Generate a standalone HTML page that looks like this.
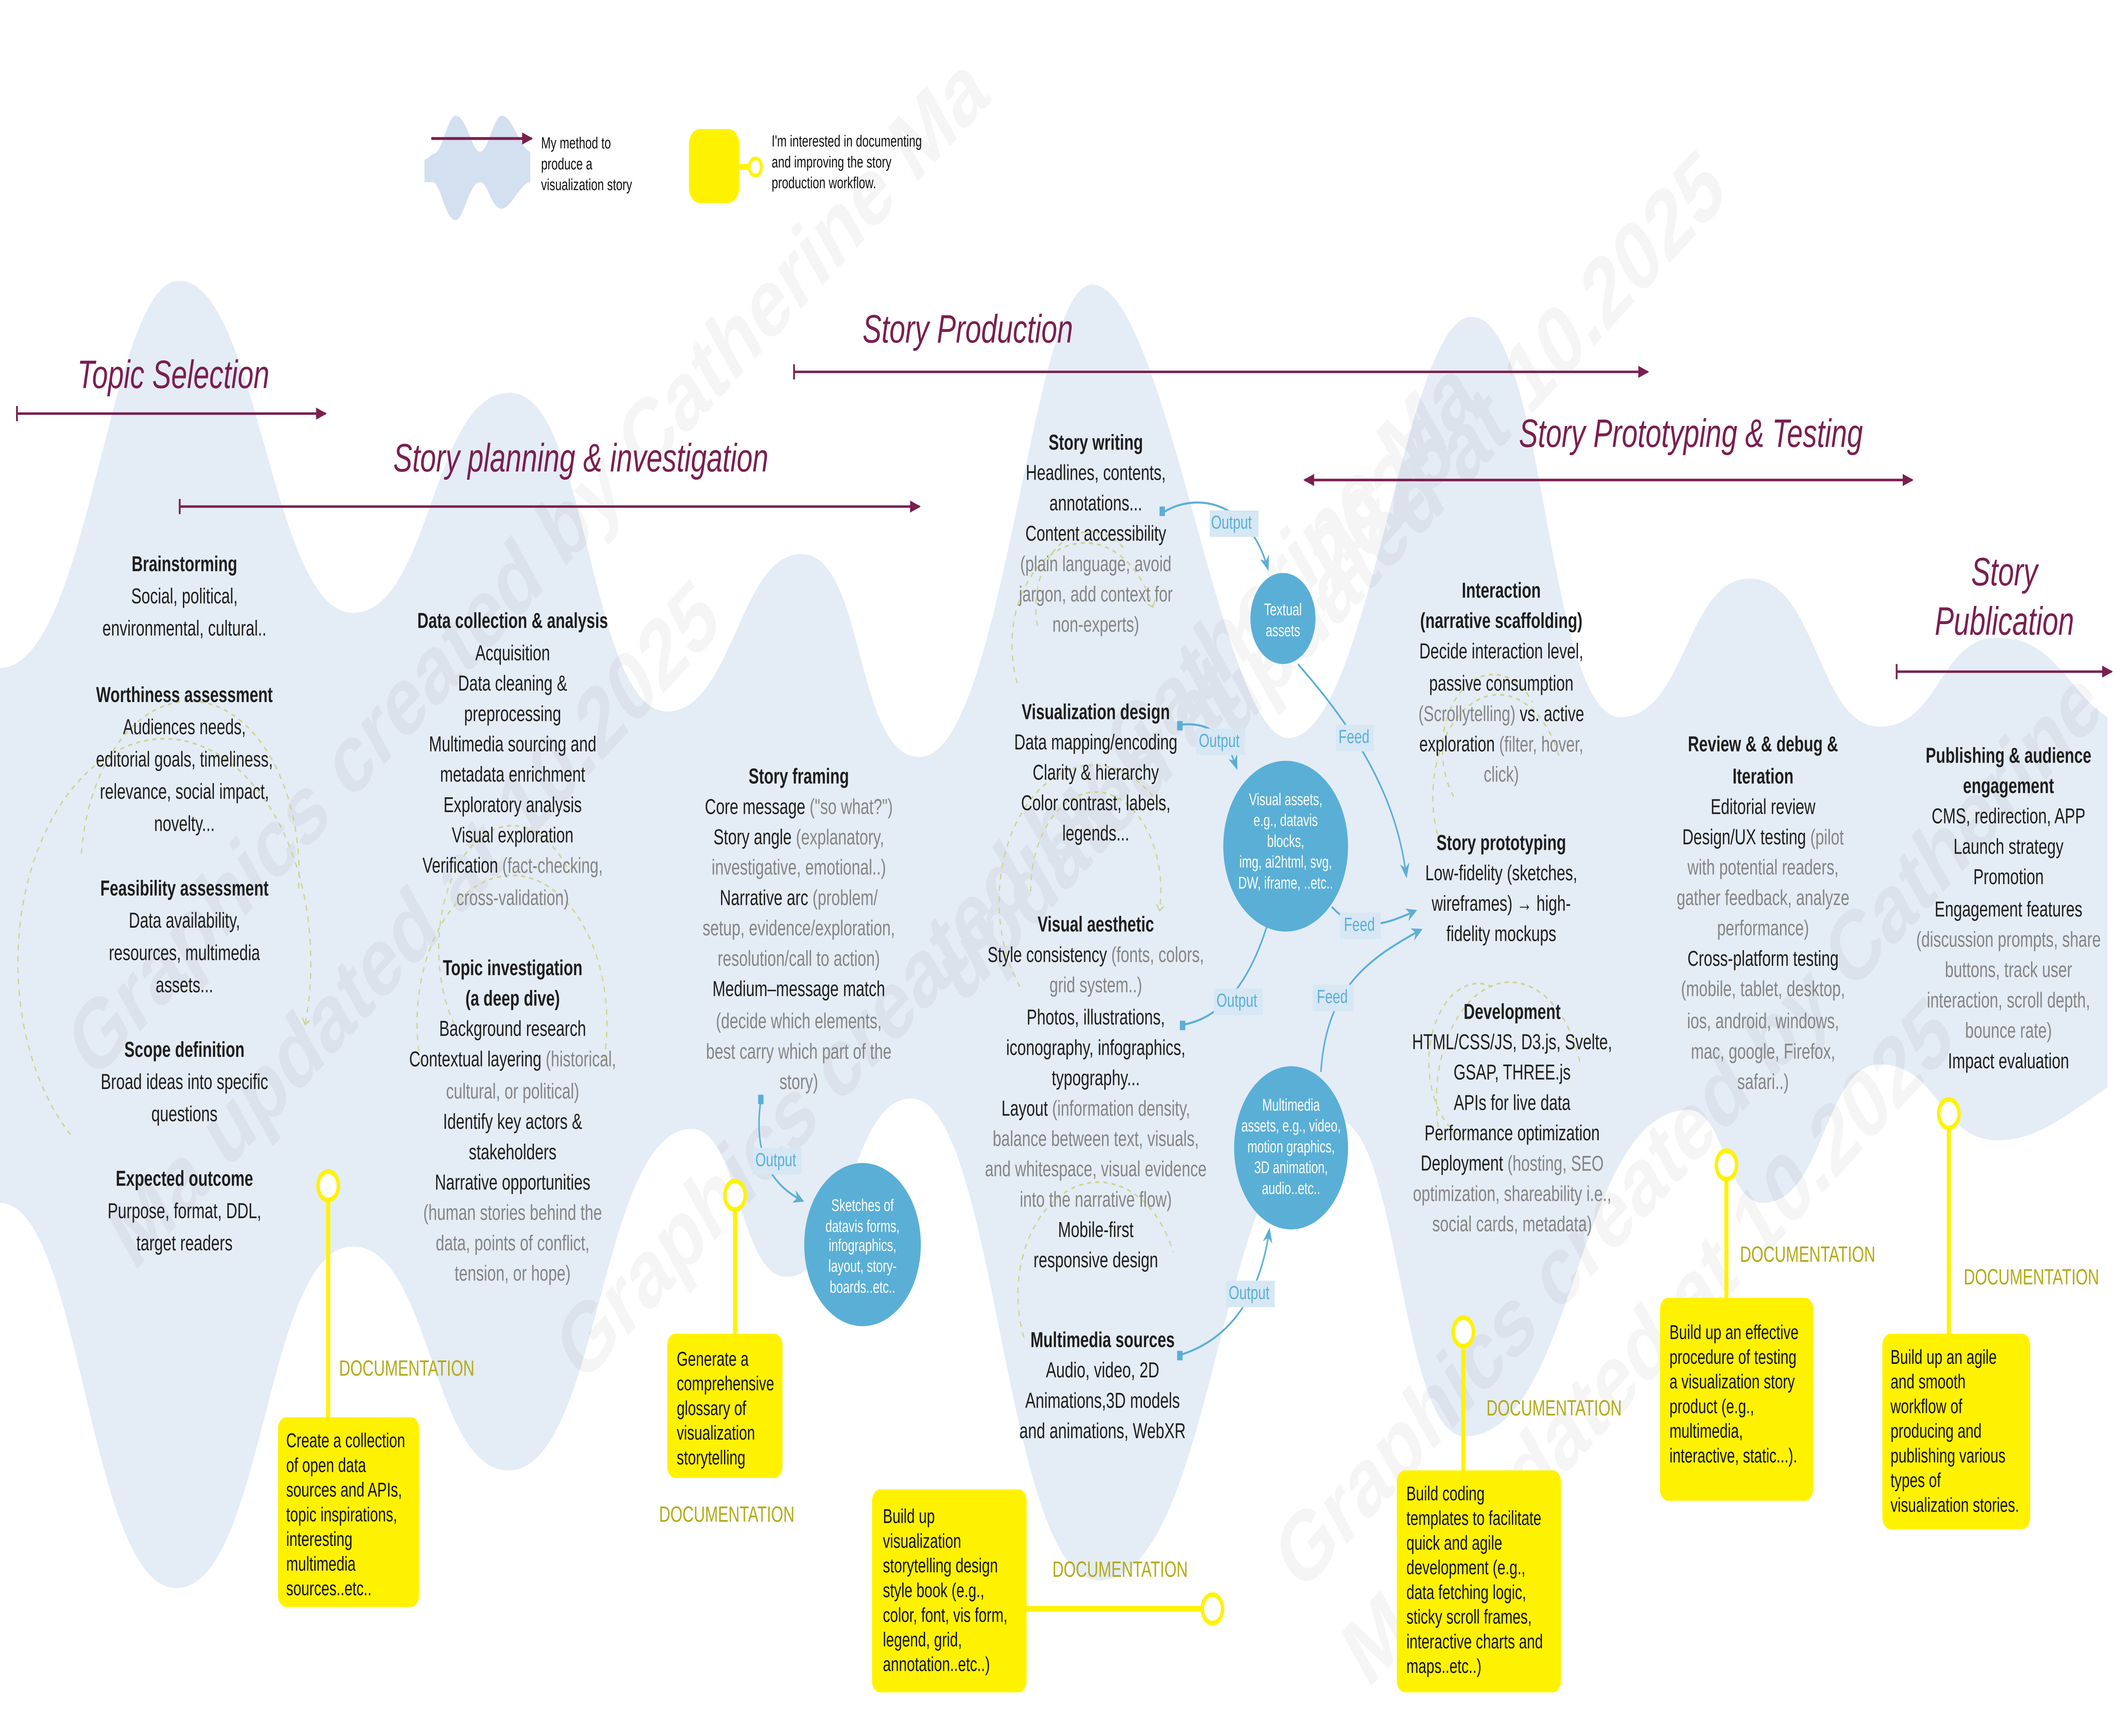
<!DOCTYPE html>
<html><head><meta charset="utf-8"><style>
html,body{margin:0;padding:0;background:#fff;width:100%;height:100%;overflow:hidden;}
svg{display:block;width:100vw;height:100vh;}
text{font-family:"Liberation Sans",Arial,sans-serif;dominant-baseline:middle;}
.c{text-anchor:middle;font-size:11.4px;fill:#1e1e1e;}
.b{font-weight:bold;}
.g{fill:#858585;}
.t{font-size:21px;font-style:italic;fill:#7a1f4f;}
.y{font-size:10.6px;fill:#111;}
.doc{font-size:11.5px;fill:#b3aa17;}
.w{text-anchor:middle;font-size:8.8px;fill:#fff;}
.o{font-size:10px;fill:#5aafd6;}
.wm{font-size:52px;font-weight:bold;fill:#000;opacity:0.035;}
</style></head><body>
<svg viewBox="0 0 1561 915" preserveAspectRatio="none" xmlns="http://www.w3.org/2000/svg">
<defs>
<marker id="am" markerWidth="8" markerHeight="8" refX="7" refY="4" orient="auto" markerUnits="userSpaceOnUse"><path d="M0,0.8 L8,4 L0,7.2 Z" fill="#7a1f4f"/></marker>
<marker id="ab" markerWidth="8" markerHeight="8" refX="7" refY="4" orient="auto" markerUnits="userSpaceOnUse"><path d="M0,0.5 L8,4 L0,7.5 L2.5,4 Z" fill="#5aafd6"/></marker>
<marker id="ag" markerWidth="6" markerHeight="6" refX="3" refY="3" orient="auto" markerUnits="userSpaceOnUse"><path d="M0,0 L3,3 L0,6" fill="none" stroke="#cdd48e" stroke-width="0.8"/></marker>
</defs>
<rect width="1561" height="915" fill="#fff"/>
<path fill="#e4ecf6" d="M0,352 C66,352 80,148 132,148 C190,148 200,323 260,323 C318,323 318,207 376,207 C434,207 434,375 492,375 C540,375 545,292 591,292 C638,292 630,399 678,399 C740,399 760,150 805,150 C860,150 900,389 950,389 C1010,389 1035,167 1085,167 C1140,167 1140,378 1195,378 C1243,378 1243,305 1290,305 C1340,305 1340,383 1386,383 C1430,383 1430,336 1473,336 C1515,336 1525,365 1554,378 L1554,573 C1520,590 1500,601 1473,601 C1430,601 1430,561 1386,561 C1345,561 1345,634 1300,634 C1272,634 1272,585 1245,585 C1162,585 1162,757 1080,757 C1032,757 1032,590 985,590 C898,590 898,833 810,833 C740,833 735,579 672,579 C625,579 625,673 580,673 C545,673 545,595 510,595 C442,595 442,775 375,775 C318,775 318,657 260,657 C195,657 195,837 130,837 C65,837 60,634 0,634 Z"/>
<g class="wm">
<text transform="translate(60,560) rotate(-38)">Graphics created by Catherine Ma</text>
<text transform="translate(90,660) rotate(-38)">Ma updated at 10.2025</text>
<text transform="translate(420,720) rotate(-38)">Graphics created by Catherine Ma</text>
<text transform="translate(700,520) rotate(-38)">updated at 10.2025</text>
<text transform="translate(950,830) rotate(-38)">Graphics created by Catherine</text>
<text transform="translate(1000,880) rotate(-38)">Ma updated at 10.2025</text>
<text transform="translate(900,380) rotate(-38)">updated at 10.2025</text>
</g>
<path fill="#d3e0f0" d="M313,96 L313,84 C316,84 318,81 320,81 C326,81 330,61 336,61 C344,61 348,80 354,80 C360,80 364,61 370,61 C378,61 383,78 391,80 L391,96 C384,96 377,110 370,110 C362,110 360,96 354,96 C346,96 342,116 336,116 C328,116 325,96 319,96 Z"/>
<line x1="318" y1="73" x2="392" y2="73" stroke="#7a1f4f" stroke-width="1.5" marker-end="url(#am)"/>
<text x="399" y="76" style="font-size:8.5px;fill:#111">My method to</text>
<text x="399" y="87" style="font-size:8.5px;fill:#111">produce a</text>
<text x="399" y="98" style="font-size:8.5px;fill:#111">visualization story</text>
<rect x="508" y="68" width="37" height="39" rx="8" fill="#fff200"/>
<line x1="545" y1="88" x2="553" y2="88" stroke="#fff200" stroke-width="3"/>
<circle cx="557" cy="88" r="4.5" fill="#fff" stroke="#fff200" stroke-width="2"/>
<text x="569" y="75" style="font-size:8.5px;fill:#111">I'm interested in documenting</text>
<text x="569" y="86" style="font-size:8.5px;fill:#111">and improving the story</text>
<text x="569" y="97" style="font-size:8.5px;fill:#111">production workflow.</text>
<text class="t" x="57" y="199">Topic Selection</text>
<line x1="12" y1="218" x2="240" y2="218" stroke="#7a1f4f" stroke-width="1.3" marker-end="url(#am)"/><line x1="12.5" y1="214" x2="12.5" y2="222" stroke="#7a1f4f" stroke-width="1.3"/>
<text class="t" x="290" y="243">Story planning &amp; investigation</text>
<line x1="132" y1="267" x2="678" y2="267" stroke="#7a1f4f" stroke-width="1.3" marker-end="url(#am)"/><line x1="132.5" y1="263" x2="132.5" y2="271" stroke="#7a1f4f" stroke-width="1.3"/>
<text class="t" x="636" y="175">Story Production</text>
<line x1="585" y1="196" x2="1215" y2="196" stroke="#7a1f4f" stroke-width="1.3" marker-end="url(#am)"/><line x1="585.5" y1="192" x2="585.5" y2="200" stroke="#7a1f4f" stroke-width="1.3"/>
<text class="t" x="1120" y="230">Story Prototyping &amp; Testing</text>
<line x1="1410" y1="253" x2="962" y2="253" stroke="#7a1f4f" stroke-width="1.3" marker-end="url(#am)"/>
<line x1="962" y1="253" x2="1410" y2="253" stroke="#7a1f4f" stroke-width="1.3" marker-end="url(#am)"/>
<text class="t" x="1478" y="303" text-anchor="middle">Story</text>
<text class="t" x="1478" y="329" text-anchor="middle">Publication</text>
<line x1="1398" y1="354" x2="1557" y2="354" stroke="#7a1f4f" stroke-width="1.3" marker-end="url(#am)"/><line x1="1398.5" y1="350" x2="1398.5" y2="358" stroke="#7a1f4f" stroke-width="1.3"/>
<g fill="none" stroke="#cdd48e" stroke-width="0.9" stroke-dasharray="3,3">
<path d="M52,598 A108,118 0 1 1 225,540" marker-end="url(#ag)"/>
<path d="M60,450 A80,90 0 0 1 220,470"/>
<path d="M310,560 A70,78 0 1 1 445,560"/>
<path d="M335,540 A50,60 0 0 1 420,460"/>
<path d="M750,360 A50,50 0 1 1 850,320" marker-end="url(#ag)"/>
<path d="M765,330 A40,40 0 0 1 830,290"/>
<path d="M760,470 A48,52 0 1 1 855,480" marker-end="url(#ag)"/>
<path d="M752,520 A58,60 0 0 1 860,430"/>
<path d="M755,705 A50,50 0 1 1 865,660"/>
<path d="M1060,440 A45,50 0 1 1 1150,400"/>
<path d="M1072,420 A36,38 0 0 1 1130,370"/>
<path d="M1062,600 A48,55 0 1 1 1165,560"/>
<path d="M1080,600 A35,40 0 0 1 1100,520"/>
</g>
<text class="c b" x="136" y="298">Brainstorming</text>
<text class="c" x="136" y="315">Social, political,</text>
<text class="c" x="136" y="332">environmental, cultural..</text>
<text class="c b" x="136" y="367">Worthiness assessment</text>
<text class="c" x="136" y="384">Audiences needs,</text>
<text class="c" x="136" y="401">editorial goals, timeliness,</text>
<text class="c" x="136" y="418">relevance, social impact,</text>
<text class="c" x="136" y="435">novelty...</text>
<text class="c b" x="136" y="469">Feasibility assessment</text>
<text class="c" x="136" y="486">Data availability,</text>
<text class="c" x="136" y="503">resources, multimedia</text>
<text class="c" x="136" y="520">assets...</text>
<text class="c b" x="136" y="554">Scope definition</text>
<text class="c" x="136" y="571">Broad ideas into specific</text>
<text class="c" x="136" y="588">questions</text>
<text class="c b" x="136" y="622">Expected outcome</text>
<text class="c" x="136" y="639">Purpose, format, DDL,</text>
<text class="c" x="136" y="656">target readers</text>
<text class="c b" x="378" y="328">Data collection &amp; analysis</text>
<text class="c" x="378" y="345">Acquisition</text>
<text class="c" x="378" y="361">Data cleaning &amp;</text>
<text class="c" x="378" y="377">preprocessing</text>
<text class="c" x="378" y="393">Multimedia sourcing and</text>
<text class="c" x="378" y="409">metadata enrichment</text>
<text class="c" x="378" y="425">Exploratory analysis</text>
<text class="c" x="378" y="441">Visual exploration</text>
<text class="c" x="378" y="457">Verification <tspan class="g">(fact-checking,</tspan></text>
<text class="c g" x="378" y="474">cross-validation)</text>
<text class="c b" x="378" y="511">Topic investigation</text>
<text class="c b" x="378" y="527">(a deep dive)</text>
<text class="c" x="378" y="543">Background research</text>
<text class="c" x="378" y="559">Contextual layering <tspan class="g">(historical,</tspan></text>
<text class="c g" x="378" y="576">cultural, or political)</text>
<text class="c" x="378" y="592">Identify key actors &amp;</text>
<text class="c" x="378" y="608">stakeholders</text>
<text class="c" x="378" y="624">Narrative opportunities</text>
<text class="c g" x="378" y="640">(human stories behind the</text>
<text class="c g" x="378" y="656">data, points of conflict,</text>
<text class="c g" x="378" y="672">tension, or hope)</text>
<text class="c b" x="589" y="410">Story framing</text>
<text class="c" x="589" y="426">Core message <tspan class="g">("so what?")</tspan></text>
<text class="c" x="589" y="442">Story angle <tspan class="g">(explanatory,</tspan></text>
<text class="c g" x="589" y="458">investigative, emotional..)</text>
<text class="c" x="589" y="474">Narrative arc <tspan class="g">(problem/</tspan></text>
<text class="c g" x="589" y="490">setup, evidence/exploration,</text>
<text class="c g" x="589" y="506">resolution/call to action)</text>
<text class="c" x="589" y="522">Medium–message match</text>
<text class="c g" x="589" y="539">(decide which elements,</text>
<text class="c g" x="589" y="555">best carry which part of the</text>
<text class="c g" x="589" y="571">story)</text>
<text class="c b" x="808" y="234">Story writing</text>
<text class="c" x="808" y="250">Headlines, contents,</text>
<text class="c" x="808" y="266">annotations...</text>
<text class="c" x="808" y="282">Content accessibility</text>
<text class="c g" x="808" y="298">(plain language, avoid</text>
<text class="c g" x="808" y="314">jargon, add context for</text>
<text class="c g" x="808" y="330">non-experts)</text>
<text class="c b" x="808" y="376">Visualization design</text>
<text class="c" x="808" y="392">Data mapping/encoding</text>
<text class="c" x="808" y="408">Clarity &amp; hierarchy</text>
<text class="c" x="808" y="424">Color contrast, labels,</text>
<text class="c" x="808" y="440">legends...</text>
<text class="c b" x="808" y="488">Visual aesthetic</text>
<text class="c" x="808" y="504">Style consistency <tspan class="g">(fonts, colors,</tspan></text>
<text class="c g" x="808" y="520">grid system..)</text>
<text class="c" x="808" y="537">Photos, illustrations,</text>
<text class="c" x="808" y="553">iconography, infographics,</text>
<text class="c" x="808" y="569">typography...</text>
<text class="c" x="808" y="585">Layout <tspan class="g">(information density,</tspan></text>
<text class="c g" x="808" y="601">balance between text, visuals,</text>
<text class="c g" x="808" y="617">and whitespace, visual evidence</text>
<text class="c g" x="808" y="633">into the narrative flow)</text>
<text class="c" x="808" y="649">Mobile-first</text>
<text class="c" x="808" y="665">responsive design</text>
<text class="c b" x="813" y="707">Multimedia sources</text>
<text class="c" x="813" y="723">Audio, video, 2D</text>
<text class="c" x="813" y="739">Animations,3D models</text>
<text class="c" x="813" y="755">and animations, WebXR</text>
<text class="c b" x="1107" y="312">Interaction</text>
<text class="c b" x="1107" y="328">(narrative scaffolding)</text>
<text class="c" x="1107" y="344">Decide interaction level,</text>
<text class="c" x="1107" y="361">passive consumption</text>
<text class="c" x="1107" y="377"><tspan class="g">(Scrollytelling)</tspan> vs. active</text>
<text class="c" x="1107" y="393">exploration <tspan class="g">(filter, hover,</tspan></text>
<text class="c g" x="1107" y="409">click)</text>
<text class="c b" x="1107" y="445">Story prototyping</text>
<text class="c" x="1107" y="461">Low-fidelity (sketches,</text>
<text class="c" x="1107" y="477">wireframes) → high-</text>
<text class="c" x="1107" y="493">fidelity mockups</text>
<text class="c b" x="1115" y="534">Development</text>
<text class="c" x="1115" y="550">HTML/CSS/JS, D3.js, Svelte,</text>
<text class="c" x="1115" y="566">GSAP,  THREE.js</text>
<text class="c" x="1115" y="582">APIs for live data</text>
<text class="c" x="1115" y="598">Performance optimization</text>
<text class="c" x="1115" y="614">Deployment <tspan class="g">(hosting, SEO</tspan></text>
<text class="c g" x="1115" y="630">optimization, shareability i.e.,</text>
<text class="c g" x="1115" y="646">social cards, metadata)</text>
<text class="c b" x="1300" y="393">Review &amp; &amp; debug &amp;</text>
<text class="c b" x="1300" y="410">Iteration</text>
<text class="c" x="1300" y="426">Editorial review</text>
<text class="c" x="1300" y="442">Design/UX testing <tspan class="g">(pilot</tspan></text>
<text class="c g" x="1300" y="458">with potential readers,</text>
<text class="c g" x="1300" y="474">gather feedback, analyze</text>
<text class="c g" x="1300" y="490">performance)</text>
<text class="c" x="1300" y="506">Cross-platform testing</text>
<text class="c g" x="1300" y="522">(mobile, tablet, desktop,</text>
<text class="c g" x="1300" y="539">ios, android, windows,</text>
<text class="c g" x="1300" y="555">mac, google, Firefox,</text>
<text class="c g" x="1300" y="571">safari..)</text>
<text class="c b" x="1481" y="399">Publishing &amp; audience</text>
<text class="c b" x="1481" y="415">engagement</text>
<text class="c" x="1481" y="431">CMS, redirection, APP</text>
<text class="c" x="1481" y="447">Launch strategy</text>
<text class="c" x="1481" y="463">Promotion</text>
<text class="c" x="1481" y="480">Engagement features</text>
<text class="c g" x="1481" y="496">(discussion prompts, share</text>
<text class="c g" x="1481" y="512">buttons, track user</text>
<text class="c g" x="1481" y="528">interaction, scroll depth,</text>
<text class="c g" x="1481" y="544">bounce rate)</text>
<text class="c" x="1481" y="560">Impact evaluation</text>
<g fill="none" stroke="#5aafd6" stroke-width="1.1">
<path d="M858,270 C880,260 920,262 935,300" marker-end="url(#ab)"/>
<path d="M957,350 C1000,385 1030,420 1037,462" marker-end="url(#ab)"/>
<path d="M870,382 C895,380 905,390 912,405" marker-end="url(#ab)"/>
<path d="M982,478 C1000,492 1020,488 1044,480" marker-end="url(#ab)"/>
<path d="M873,540 C910,535 930,505 941,470" marker-end="url(#ab)"/>
<path d="M974,565 C978,520 1010,505 1048,490" marker-end="url(#ab)"/>
<path d="M871,714 C910,705 930,680 936,648" marker-end="url(#ab)"/>
<path d="M561,580 C555,610 570,625 592,633" marker-end="url(#ab)"/>
</g>
<g fill="#5aafd6"><rect x="855" y="267" width="4" height="5"/><rect x="868" y="380" width="4" height="5"/><rect x="870" y="538" width="4" height="5"/><rect x="868" y="712" width="4" height="5"/><rect x="559" y="577" width="4" height="5"/></g>
<g fill="#d7e7f4"><rect x="892" y="269" width="36" height="14"/><rect x="882" y="384" width="36" height="14"/><rect x="985" y="382" width="28" height="14"/><rect x="988" y="481" width="30" height="14"/><rect x="895" y="521" width="36" height="14"/><rect x="968" y="519" width="30" height="14"/><rect x="904" y="675" width="36" height="14"/><rect x="555" y="605" width="36" height="14"/></g>
<g class="o">
<text x="893" y="276">Output</text><text x="884" y="391">Output</text><text x="987" y="389">Feed</text><text x="991" y="488">Feed</text><text x="897" y="528">Output</text><text x="971" y="526">Feed</text><text x="906" y="682">Output</text><text x="557" y="612">Output</text>
</g>
<g fill="#5aafd6">
<ellipse cx="946" cy="326" rx="24" ry="24"/>
<ellipse cx="948" cy="446" rx="46" ry="45"/>
<ellipse cx="636" cy="656" rx="43" ry="43"/>
<ellipse cx="952" cy="605" rx="42" ry="43"/>
</g>
<text class="w" x="946" y="322">Textual</text><text class="w" x="946" y="333">assets</text>
<text class="w" x="948" y="422">Visual assets,</text><text class="w" x="948" y="433">e.g., datavis</text><text class="w" x="948" y="444">blocks,</text><text class="w" x="948" y="455">img, ai2html, svg,</text><text class="w" x="948" y="466">DW, iframe, ..etc..</text>
<text class="w" x="636" y="636">Sketches of</text><text class="w" x="636" y="647">datavis forms,</text><text class="w" x="636" y="657">infographics,</text><text class="w" x="636" y="668">layout, story-</text><text class="w" x="636" y="679">boards..etc..</text>
<text class="w" x="952" y="583">Multimedia</text><text class="w" x="952" y="594">assets, e.g., video,</text><text class="w" x="952" y="605">motion graphics,</text><text class="w" x="952" y="616">3D animation,</text><text class="w" x="952" y="627">audio..etc..</text>
<g stroke="#fff200" stroke-width="3">
<line x1="242" y1="633" x2="242" y2="748"/>
<line x1="542" y1="638" x2="542" y2="704"/>
<line x1="756" y1="848" x2="886" y2="848"/>
<line x1="1079" y1="710" x2="1079" y2="776"/>
<line x1="1273" y1="622" x2="1273" y2="685"/>
<line x1="1437" y1="595" x2="1437" y2="704"/>
</g>
<g fill="#fff" stroke="#fff200" stroke-width="2.5">
<circle cx="242" cy="625" r="7.5"/><circle cx="542" cy="630" r="7.5"/><circle cx="894" cy="848" r="7.5"/><circle cx="1079" cy="702" r="7.5"/><circle cx="1273" cy="614" r="7.5"/><circle cx="1437" cy="587" r="7.5"/>
</g>
<g fill="#fff200">
<rect x="205" y="747" width="104" height="100" rx="6"/>
<rect x="492" y="703" width="85" height="76" rx="6"/>
<rect x="643" y="785" width="114" height="107" rx="6"/>
<rect x="1030" y="775" width="121" height="117" rx="6"/>
<rect x="1224" y="684" width="113" height="107" rx="6"/>
<rect x="1388" y="703" width="109" height="103" rx="6"/>
</g>
<g class="doc">
<text x="250" y="722">DOCUMENTATION</text><text x="486" y="799">DOCUMENTATION</text><text x="776" y="828">DOCUMENTATION</text><text x="1096" y="743">DOCUMENTATION</text><text x="1283" y="662">DOCUMENTATION</text><text x="1448" y="674">DOCUMENTATION</text>
</g>
<g class="y">
<text x="211" y="760">Create a collection</text><text x="211" y="773">of open data</text><text x="211" y="786">sources and APIs,</text><text x="211" y="799">topic inspirations,</text><text x="211" y="812">interesting</text><text x="211" y="825">multimedia</text><text x="211" y="838">sources..etc..</text>
<text x="499" y="717">Generate a</text><text x="499" y="730">comprehensive</text><text x="499" y="743">glossary of</text><text x="499" y="756">visualization</text><text x="499" y="769">storytelling</text>
<text x="651" y="800">Build up</text><text x="651" y="813">visualization</text><text x="651" y="826">storytelling design</text><text x="651" y="839">style book (e.g.,</text><text x="651" y="852">color, font, vis form,</text><text x="651" y="865">legend, grid,</text><text x="651" y="878">annotation..etc..)</text>
<text x="1037" y="788">Build coding</text><text x="1037" y="801">templates to facilitate</text><text x="1037" y="814">quick and agile</text><text x="1037" y="827">development (e.g.,</text><text x="1037" y="840">data fetching logic,</text><text x="1037" y="853">sticky scroll frames,</text><text x="1037" y="866">interactive charts and</text><text x="1037" y="879">maps..etc..)</text>
<text x="1231" y="703">Build up an effective</text><text x="1231" y="716">procedure of testing</text><text x="1231" y="729">a visualization story</text><text x="1231" y="742">product (e.g.,</text><text x="1231" y="755">multimedia,</text><text x="1231" y="768">interactive, static...).</text>
<text x="1394" y="716">Build up an agile</text><text x="1394" y="729">and smooth</text><text x="1394" y="742">workflow of</text><text x="1394" y="755">producing and</text><text x="1394" y="768">publishing various</text><text x="1394" y="781">types of</text><text x="1394" y="794">visualization stories.</text>
</g>
</svg>
</body></html>
